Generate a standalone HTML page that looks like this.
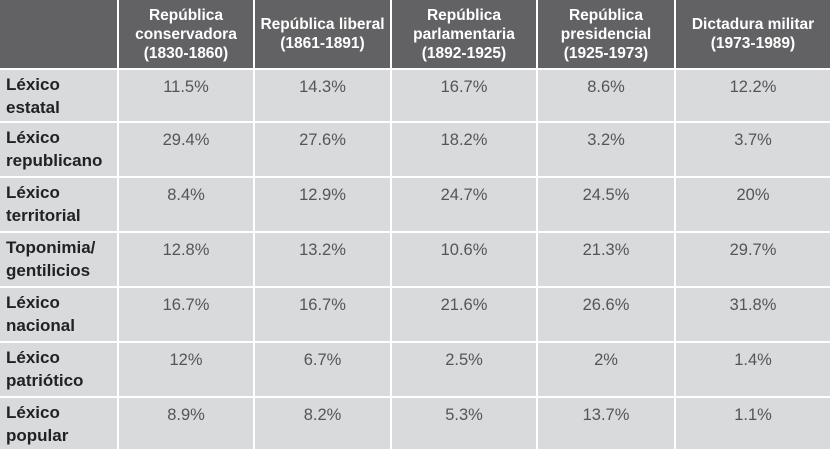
<!DOCTYPE html>
<html><head><meta charset="utf-8"><style>
html,body{margin:0;padding:0;background:#fff;width:830px;height:449px;overflow:hidden;position:relative;font-family:"Liberation Sans",sans-serif}
.c{position:absolute;box-sizing:border-box}
.h{background:#626264;color:#fff;font-weight:bold;font-size:15.5px;line-height:19px;text-align:center;display:flex;align-items:center;justify-content:center}
.l{background:#d9dadc;color:#222;font-weight:bold;font-size:17px;line-height:23px;padding:3px 0 0 6px}
.v{background:#d9dadc;color:#555;font-size:16.5px;text-align:center;padding-top:8px}
</style></head><body>
<div id="t"></div>
<script>
const cols=[0,119,255,392,538,676,830];
const rows=[0,70,123,178,233,288,343,398,451];
const heads=["","República<br>conservadora<br>(1830-1860)","República liberal<br>(1861-1891)","República<br>parlamentaria<br>(1892-1925)","República<br>presidencial<br>(1925-1973)","Dictadura militar<br>(1973-1989)"];
const labels=["Léxico<br>estatal","Léxico<br>republicano","Léxico<br>territorial","Toponimia/<br>gentilicios","Léxico<br>nacional","Léxico<br>patriótico","Léxico<br>popular"];
const vals=[["11.5%","14.3%","16.7%","8.6%","12.2%"],["29.4%","27.6%","18.2%","3.2%","3.7%"],["8.4%","12.9%","24.7%","24.5%","20%"],["12.8%","13.2%","10.6%","21.3%","29.7%"],["16.7%","16.7%","21.6%","26.6%","31.8%"],["12%","6.7%","2.5%","2%","1.4%"],["8.9%","8.2%","5.3%","13.7%","1.1%"]];
const t=document.getElementById('t');
function cell(r,c,cls,html){
  const d=document.createElement('div');
  d.className='c '+cls;
  d.style.left=cols[c]+'px';
  d.style.top=rows[r]+'px';
  d.style.width=(cols[c+1]-cols[c]-(c<5?2:0))+'px';
  d.style.height=(rows[r+1]-rows[r]-2)+'px';
  d.innerHTML=html;
  t.appendChild(d);
  return d;
}
for(let c=0;c<6;c++){
  const d=cell(0,c,'h',heads[c]);
  
  
}
for(let r=0;r<7;r++){
  const d=cell(r+1,0,'l',labels[r]);
  
  
  for(let c=0;c<5;c++){
    const e=cell(r+1,c+1,'v',vals[r][c]);
    
    
  }
}
</script>
</body></html>
